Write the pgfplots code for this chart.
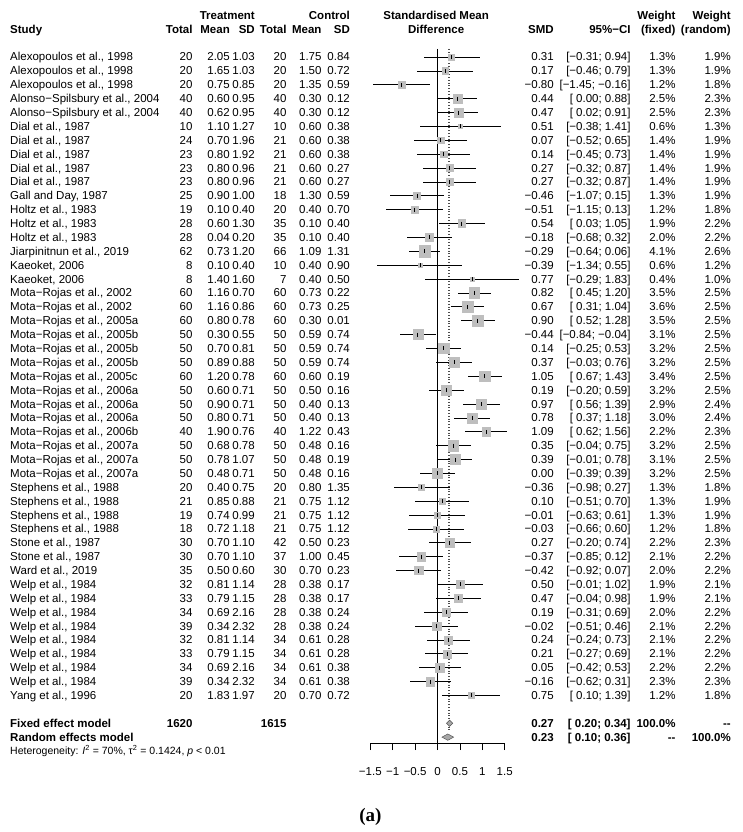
\documentclass[border=0pt]{standalone}
\usepackage{fontspec}
\setmainfont{Liberation Sans}
\newfontfamily\serifa{Liberation Serif}
\usepackage{pgfplots}
\usepackage{pgfplotstable}
\pgfplotsset{compat=1.18}

\definecolor{sqgray}{HTML}{BEBEBE}
\definecolor{diagray}{HTML}{A8A8A8}
\definecolor{diaedge}{HTML}{555555}

\def\fmtA#1#2\relax{\ifx-#1−#2\else#1#2\fi}
\def\fmtloA#1#2\relax{\ifx-#1−#2\else\ #1#2\fi}
\newcommand\fmt[1]{\edef\fmttmp{#1}\expandafter\fmtA\fmttmp\relax}
\newcommand\fmtlo[1]{\edef\fmttmp{#1}\expandafter\fmtloA\fmttmp\relax}

\pgfplotstableread[col sep=semicolon, row sep=\\]{
row;study;nt;mt;sdt;nc;mc;sdc;smd;lo;hi;wf;wr\\
1;Alexopoulos et al., 1998;20;2.05;1.03;20;1.75;0.84;0.31;-0.31;0.94;1.3;1.9\\
2;Alexopoulos et al., 1998;20;1.65;1.03;20;1.50;0.72;0.17;-0.46;0.79;1.3;1.9\\
3;Alexopoulos et al., 1998;20;0.75;0.85;20;1.35;0.59;-0.80;-1.45;-0.16;1.2;1.8\\
4;Alonso−Spilsbury et al., 2004;40;0.60;0.95;40;0.30;0.12;0.44;0.00;0.88;2.5;2.3\\
5;Alonso−Spilsbury et al., 2004;40;0.62;0.95;40;0.30;0.12;0.47;0.02;0.91;2.5;2.3\\
6;Dial et al., 1987;10;1.10;1.27;10;0.60;0.38;0.51;-0.38;1.41;0.6;1.3\\
7;Dial et al., 1987;24;0.70;1.96;21;0.60;0.38;0.07;-0.52;0.65;1.4;1.9\\
8;Dial et al., 1987;23;0.80;1.92;21;0.60;0.38;0.14;-0.45;0.73;1.4;1.9\\
9;Dial et al., 1987;23;0.80;0.96;21;0.60;0.27;0.27;-0.32;0.87;1.4;1.9\\
10;Dial et al., 1987;23;0.80;0.96;21;0.60;0.27;0.27;-0.32;0.87;1.4;1.9\\
11;Gall and Day, 1987;25;0.90;1.00;18;1.30;0.59;-0.46;-1.07;0.15;1.3;1.9\\
12;Holtz et al., 1983;19;0.10;0.40;20;0.40;0.70;-0.51;-1.15;0.13;1.2;1.8\\
13;Holtz et al., 1983;28;0.60;1.30;35;0.10;0.40;0.54;0.03;1.05;1.9;2.2\\
14;Holtz et al., 1983;28;0.04;0.20;35;0.10;0.40;-0.18;-0.68;0.32;2.0;2.2\\
15;Jiarpinitnun et al., 2019;62;0.73;1.20;66;1.09;1.31;-0.29;-0.64;0.06;4.1;2.6\\
16;Kaeoket, 2006;8;0.10;0.40;10;0.40;0.90;-0.39;-1.34;0.55;0.6;1.2\\
17;Kaeoket, 2006;8;1.40;1.60;7;0.40;0.50;0.77;-0.29;1.83;0.4;1.0\\
18;Mota−Rojas et al., 2002;60;1.16;0.70;60;0.73;0.22;0.82;0.45;1.20;3.5;2.5\\
19;Mota−Rojas et al., 2002;60;1.16;0.86;60;0.73;0.25;0.67;0.31;1.04;3.6;2.5\\
20;Mota−Rojas et al., 2005a;60;0.80;0.78;60;0.30;0.01;0.90;0.52;1.28;3.5;2.5\\
21;Mota−Rojas et al., 2005b;50;0.30;0.55;50;0.59;0.74;-0.44;-0.84;-0.04;3.1;2.5\\
22;Mota−Rojas et al., 2005b;50;0.70;0.81;50;0.59;0.74;0.14;-0.25;0.53;3.2;2.5\\
23;Mota−Rojas et al., 2005b;50;0.89;0.88;50;0.59;0.74;0.37;-0.03;0.76;3.2;2.5\\
24;Mota−Rojas et al., 2005c;60;1.20;0.78;60;0.60;0.19;1.05;0.67;1.43;3.4;2.5\\
25;Mota−Rojas et al., 2006a;50;0.60;0.71;50;0.50;0.16;0.19;-0.20;0.59;3.2;2.5\\
26;Mota−Rojas et al., 2006a;50;0.90;0.71;50;0.40;0.13;0.97;0.56;1.39;2.9;2.4\\
27;Mota−Rojas et al., 2006a;50;0.80;0.71;50;0.40;0.13;0.78;0.37;1.18;3.0;2.4\\
28;Mota−Rojas et al., 2006b;40;1.90;0.76;40;1.22;0.43;1.09;0.62;1.56;2.2;2.3\\
29;Mota−Rojas et al., 2007a;50;0.68;0.78;50;0.48;0.16;0.35;-0.04;0.75;3.2;2.5\\
30;Mota−Rojas et al., 2007a;50;0.78;1.07;50;0.48;0.19;0.39;-0.01;0.78;3.1;2.5\\
31;Mota−Rojas et al., 2007a;50;0.48;0.71;50;0.48;0.16;0.00;-0.39;0.39;3.2;2.5\\
32;Stephens et al., 1988;20;0.40;0.75;20;0.80;1.35;-0.36;-0.98;0.27;1.3;1.8\\
33;Stephens et al., 1988;21;0.85;0.88;21;0.75;1.12;0.10;-0.51;0.70;1.3;1.9\\
34;Stephens et al., 1988;19;0.74;0.99;21;0.75;1.12;-0.01;-0.63;0.61;1.3;1.9\\
35;Stephens et al., 1988;18;0.72;1.18;21;0.75;1.12;-0.03;-0.66;0.60;1.2;1.8\\
36;Stone et al., 1987;30;0.70;1.10;42;0.50;0.23;0.27;-0.20;0.74;2.2;2.3\\
37;Stone et al., 1987;30;0.70;1.10;37;1.00;0.45;-0.37;-0.85;0.12;2.1;2.2\\
38;Ward et al., 2019;35;0.50;0.60;30;0.70;0.23;-0.42;-0.92;0.07;2.0;2.2\\
39;Welp et al., 1984;32;0.81;1.14;28;0.38;0.17;0.50;-0.01;1.02;1.9;2.1\\
40;Welp et al., 1984;33;0.79;1.15;28;0.38;0.17;0.47;-0.04;0.98;1.9;2.1\\
41;Welp et al., 1984;34;0.69;2.16;28;0.38;0.24;0.19;-0.31;0.69;2.0;2.2\\
42;Welp et al., 1984;39;0.34;2.32;28;0.38;0.24;-0.02;-0.51;0.46;2.1;2.2\\
43;Welp et al., 1984;32;0.81;1.14;34;0.61;0.28;0.24;-0.24;0.73;2.1;2.2\\
44;Welp et al., 1984;33;0.79;1.15;34;0.61;0.28;0.21;-0.27;0.69;2.1;2.2\\
45;Welp et al., 1984;34;0.69;2.16;34;0.61;0.38;0.05;-0.42;0.53;2.2;2.2\\
46;Welp et al., 1984;39;0.34;2.32;34;0.61;0.38;-0.16;-0.62;0.31;2.3;2.3\\
47;Yang et al., 1996;20;1.83;1.97;20;0.70;0.72;0.75;0.10;1.39;1.2;1.8\\
}\studies

\pgfplotsset{
  colR/.style={draw=none, mark=none, point meta=explicit symbolic,
    every node near coord/.append style={anchor=base east, inner sep=0pt, yshift=-4pt}},
  colL/.style={draw=none, mark=none, point meta=explicit symbolic,
    every node near coord/.append style={anchor=base west, inner sep=0pt, yshift=-4pt}},
}
\newcommand\hR[3]{\node[anchor=base east,inner sep=0pt,yshift=-4pt,font=\bfseries] at (axis cs:#1,#2) {#3};}
\newcommand\hL[3]{\node[anchor=base west,inner sep=0pt,yshift=-4pt,font=\bfseries] at (axis cs:#1,#2) {#3};}
\newcommand\hC[3]{\node[anchor=base,inner sep=0pt,yshift=-4pt,font=\bfseries] at (axis cs:#1,#2) {#3};}
\newcommand\citext{\pgfplotstablegetelem{\coordindex}{hi}\of\studies\let\hival\pgfplotsretval
  [\fmtlo{\pgfplotspointmeta}; \fmt{\hival}]}

\begin{document}
\fontsize{11.5}{13.8}\selectfont
\begin{tikzpicture}
\path[use as bounding box] (0,0) rectangle (742pt,-832pt);
\begin{axis}[
  at={(370.3pt,-743.5pt)}, anchor=south west,
  scale only axis, width=134.4pt, height=694.5pt,
  xmin=-1.5, xmax=1.5, ymin=-50.46, ymax=-0.424,
  enlargelimits=false, clip=false,
  axis x line*=bottom, axis y line=none,
  xtick={-1.5,-1,-0.5,0,0.5,1,1.5},
  xticklabels={−1.5,−1,−0.5,0,0.5,1,1.5},
  ytick=\empty,
  tick align=outside, major tick length=6.7pt,
  x axis line style={line width=0.7pt, black},
  every tick/.style={line width=0.7pt, black},
  xticklabel style={anchor=base, inner sep=0pt, yshift=-24.9pt},
]
% reference lines
\addplot[black, line width=0.7pt] coordinates {(0,-0.424) (0,-50.46)};
\addplot[black!70, line width=0.6pt, dash pattern=on 0.8pt off 2pt] coordinates {(0.27,-0.424) (0.27,-49.6)};
\addplot[black!70, line width=0.6pt, dash pattern=on 0.8pt off 2pt] coordinates {(0.23,-0.424) (0.23,-49.6)};
% squares
\addplot[scatter, only marks, mark=square*,
  scatter/use mapped color={draw=sqgray, fill=sqgray},
  visualization depends on={2.85*sqrt(\thisrow{wf}) \as \msz},
  scatter/@pre marker code/.append style={/tikz/mark size=\msz}]
  table[x=smd, y expr=-\thisrow{row}] {\studies};
% confidence intervals
\addplot[black, only marks, mark=|, mark size=2pt, mark options={line width=0.7pt},
  error bars/.cd, x dir=both, x explicit, error mark=none,
  error bar style={line width=0.7pt, black}]
  table[x=smd, y expr=-\thisrow{row},
    x error plus expr=\thisrow{hi}-\thisrow{smd},
    x error minus expr=\thisrow{smd}-\thisrow{lo}] {\studies};
% diamonds
\addplot[fill=diagray, draw=diaedge, line width=0.5pt] coordinates {(0.20,-49) (0.27,-48.77) (0.34,-49) (0.27,-49.23)} -- cycle;
\addplot[fill=diagray, draw=diaedge, line width=0.5pt] coordinates {(0.10,-50) (0.23,-49.77) (0.36,-50) (0.23,-50.23)} -- cycle;
% text columns
\addplot[colL, nodes near coords={\pgfplotspointmeta}] table[x expr=-9.542, y expr=-\thisrow{row}, meta=study] {\studies};
\addplot[colR, nodes near coords={\pgfplotspointmeta}] table[x expr=-5.464, y expr=-\thisrow{row}, meta=nt] {\studies};
\addplot[colR, nodes near coords={\pgfplotspointmeta}] table[x expr=-4.632, y expr=-\thisrow{row}, meta=mt] {\studies};
\addplot[colR, nodes near coords={\pgfplotspointmeta}] table[x expr=-4.074, y expr=-\thisrow{row}, meta=sdt] {\studies};
\addplot[colR, nodes near coords={\pgfplotspointmeta}] table[x expr=-3.366, y expr=-\thisrow{row}, meta=nc] {\studies};
\addplot[colR, nodes near coords={\pgfplotspointmeta}] table[x expr=-2.585, y expr=-\thisrow{row}, meta=mc] {\studies};
\addplot[colR, nodes near coords={\pgfplotspointmeta}] table[x expr=-1.953, y expr=-\thisrow{row}, meta=sdc] {\studies};
\addplot[colR, nodes near coords={\fmt{\pgfplotspointmeta}}] table[x expr=2.600, y expr=-\thisrow{row}, meta=smd] {\studies};
\addplot[colR, nodes near coords={\citext}] table[x expr=4.313, y expr=-\thisrow{row}, meta=lo] {\studies};
\addplot[colR, nodes near coords={\pgfplotspointmeta\%}] table[x expr=5.317, y expr=-\thisrow{row}, meta=wf] {\studies};
\addplot[colR, nodes near coords={\pgfplotspointmeta\%}] table[x expr=6.551, y expr=-\thisrow{row}, meta=wr] {\studies};
% headers
\hR{-4.074}{2}{Treatment}
\hR{-1.953}{2}{Control}
\hC{-0.03}{2}{Standardised Mean}
\hR{5.317}{2}{Weight}
\hR{6.551}{2}{Weight}
\hL{-9.542}{1}{Study}
\hR{-5.464}{1}{Total}
\hR{-4.632}{1}{Mean}
\hR{-4.074}{1}{SD}
\hR{-3.366}{1}{Total}
\hR{-2.585}{1}{Mean}
\hR{-1.953}{1}{SD}
\hC{-0.03}{1}{Difference}
\hR{2.600}{1}{SMD}
\hR{4.313}{1}{95\%−CI}
\hR{5.317}{1}{(fixed)}
\hR{6.551}{1}{(random)}
% summary rows
\hL{-9.542}{-49}{Fixed effect model}
\hR{-5.464}{-49}{1620}
\hR{-3.366}{-49}{1615}
\hR{2.600}{-49}{0.27}
\hR{4.313}{-49}{[\ 0.20; 0.34]}
\hR{5.317}{-49}{100.0\%}
\hR{6.551}{-49}{-{}-}
\hL{-9.542}{-50}{Random effects model}
\hR{2.600}{-50}{0.23}
\hR{4.313}{-50}{[\ 0.10; 0.36]}
\hR{5.317}{-50}{-{}-}
\hR{6.551}{-50}{100.0\%}
\node[anchor=base west, inner sep=0pt, yshift=-3.7pt, font=\fontsize{10.5}{12.6}\selectfont] at (axis cs:-9.542,-51)
  {Heterogeneity: \textit{I}\textsuperscript{2} = 70\%, τ\textsuperscript{2} = 0.1424, \textit{p} < 0.01};
\node[font=\serifa\bfseries\fontsize{19}{22}\selectfont, inner sep=0pt] at (axis cs:-1.496,-55.75) {(a)};
\end{axis}
\end{tikzpicture}
\end{document}
